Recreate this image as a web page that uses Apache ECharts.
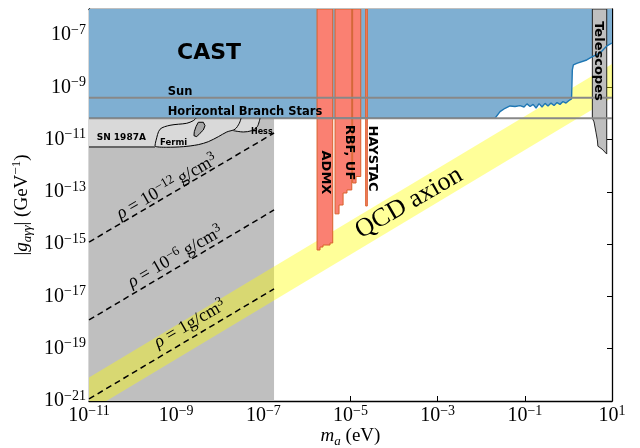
<!DOCTYPE html>
<html><head><meta charset="utf-8">
<script src="https://cdn.jsdelivr.net/npm/echarts@6/dist/echarts.min.js"></script>
<style>html,body{margin:0;padding:0;background:#fff}#c{width:640px;height:448px}</style>
</head><body><div id="c"></div>
<script>
// ---------------- data (m_a in eV, |g| in GeV^-1) ----------------
const xTicksExp = [-11, -9, -7, -5, -3, -1, 1];
const yTicksExp = [-21, -19, -17, -15, -13, -11, -9, -7];
const xRange = [1e-11, 10];
const yRange = [1e-21, 1e-6];

const sunLimit = 4.0e-10;
const hbLimit = 6.6e-11;

const castLimit = [[1e-11,6.6e-11],[2.07e-2,6.6e-11],[2.7e-2,1.18e-10],[3.52e-2,1.59e-10],[4.57e-2,1.95e-10],
  [5.96e-2,1.86e-10],[7.76e-2,2.0e-10],[9.6e-2,1.78e-10],[0.112,2.34e-10],[0.132,1.86e-10],[0.155,2.24e-10],
  [0.181,1.62e-10],[0.212,2.40e-10],[0.248,1.78e-10],[0.291,2.45e-10],[0.340,1.95e-10],[0.399,2.51e-10],
  [0.468,2.04e-10],[0.548,2.63e-10],[0.641,2.24e-10],[0.752,2.88e-10],[0.881,2.51e-10],[1.03,3.16e-10],
  [1.18,3.63e-10],[1.23,4.65e-9],[1.30,7.24e-9],[1.55,8.3e-9],[2.63,1.12e-8],[3.47,1.46e-8],[5.32,2.09e-8],
  [7.69,3.89e-8],[10,5.0e-8]];

const snLimit = [[1e-11,5.25e-12],[3.27e-10,5.25e-12]];
const fermiContour = [[2.85e-9,6.6e-11],[2.47e-9,5.33e-11],[1.75e-9,4.24e-11],[7.23e-10,3.55e-11],[4.26e-10,2.5e-11],
  [3.44e-10,9.16e-12],[3.27e-10,5.75e-12],[6.07e-10,5.13e-12],[1.46e-9,5.4e-12],[3.22e-9,6.45e-12],[5.47e-9,8.38e-12],
  [9.27e-9,1.30e-11],[1.45e-8,1.97e-11],[2.24e-8,2.51e-11],[2.81e-8,4.24e-11],[3.08e-8,6.6e-11]];
const fermiIsland = [[3.22e-9,4.63e-11],[4.2e-9,4.63e-11],[4.59e-9,3.44e-11],[4.2e-9,2.35e-11],[3.52e-9,1.76e-11],
  [2.96e-9,1.30e-11],[2.56e-9,1.42e-11],[2.61e-9,2.02e-11],[2.85e-9,3.14e-11]];
const hessContour = [[2.05e-8,2.21e-11],[3.48e-8,1.97e-11],[5.41e-8,2.21e-11],[7.28e-8,3.16e-11],[8.4e-8,6.6e-11]];

const grayRegionM = [1e-11, 1.76e-7];
const grayRegionG = [1e-21, 6.6e-11];

const qcdUpper = [[1e-11,7.9e-21],[10,7.9e-9]];
const qcdLower = [[1e-11,4.0e-22],[10,4.0e-10]];

const rho12 = [[1e-11,1.2e-15],[1.76e-7,1.8e-11]];
const rho6  = [[1e-11,1.26e-18],[1.76e-7,2.04e-14]];
const rho0  = [[1e-11,1.2e-21],[1.76e-7,1.95e-17]];

const barTop = 1e-6;
const admxBottom = [[1.71e-6,6.0e-16],[2.0e-6,6.0e-16],[2.0e-6,7.8e-16],[2.34e-6,7.8e-16],[2.34e-6,9.3e-16],
  [3.39e-6,9.3e-16],[3.39e-6,1.11e-15],[3.91e-6,1.11e-15]];
const rbfBottom = [[4.42e-6,1.45e-14],[5.46e-6,1.45e-14],[5.46e-6,3.16e-14],[6.76e-6,3.16e-14],[6.76e-6,9.1e-14],
  [8.3e-6,9.1e-14],[8.3e-6,1.19e-13],[1.07e-5,1.19e-13]];
const ufBottom = [[1.12e-5,2.2e-13],[1.34e-5,2.2e-13],[1.34e-5,3.9e-13],[1.72e-5,3.9e-13]];
const haystacBottom = [[2.23e-5,2.9e-14],[2.43e-5,2.9e-14]];

const telescopeEdge = [[3.54,1e-6],[3.54,6.6e-11],[3.87,4.79e-11],[4.31,1.82e-11],[4.61,9.8e-12],[4.75,5.6e-12],
  [5.05,5.25e-12],[5.9,4.37e-12],[7.57,2.82e-12],[7.57,1e-6]];

// ---------------- build ----------------
const L = v => Math.log10(v);
const P = pts => pts.map(p => [L(p[0]), L(p[1])]);
const SANS = 'DejaVu Sans', SERIF = 'Liberation Serif';
const deg = Math.PI / 180;

function poly(pts, style) {
  const lp = P(pts);
  return { type: 'custom', coordinateSystem: 'cartesian2d', clip: true, silent: true,
    data: [lp[0]],
    renderItem: (params, api) => ({ type: 'polygon', shape: { points: lp.map(p => api.coord(p)) }, style: style }) };
}
function line(pts, lineStyle, smooth) {
  return { type: 'line', data: P(pts), symbol: 'none', silent: true, smooth: smooth || false, lineStyle: lineStyle, clip: true };
}
function bar(bottom) {
  const pts = [[bottom[0][0], barTop]].concat(bottom, [[bottom[bottom.length-1][0], barTop]]);
  return poly(pts, { fill: '#fa8072', stroke: '#d9622b', lineWidth: 1 });
}
function supText(v) { return v < 0 ? '−' + (-v) : String(v); }

const darkGray = [[grayRegionM[0],grayRegionG[0]],[grayRegionM[1],grayRegionG[0]],[grayRegionM[1],grayRegionG[1]],[grayRegionM[0],grayRegionG[1]]];
const lightGray = [[snLimit[0][0], hbLimit],[hessContour[hessContour.length-1][0], hbLimit]]
  .concat(hessContour.slice().reverse(), fermiContour.slice(6, 13).reverse(), [snLimit[1], snLimit[0]]);
const castPoly = castLimit.concat([[xRange[1], yRange[1]],[xRange[0], yRange[1]]]);
const band = [qcdUpper[0], qcdUpper[1], qcdLower[1], qcdLower[0]];

const tickRich = {
  b: { fontFamily: SERIF, fontSize: 20, lineHeight: 24, verticalAlign: 'middle', color: '#000' },
  s: { fontFamily: SERIF, fontSize: 14, lineHeight: 14, verticalAlign: 'top', color: '#000' }
};
const nameRich = {
  r: { fontFamily: SERIF, fontSize: 19, lineHeight: 24, verticalAlign: 'middle', color: '#000' },
  i: { fontFamily: SERIF, fontStyle: 'italic', fontSize: 19, lineHeight: 24, verticalAlign: 'middle', color: '#000' },
  sub: { fontFamily: SERIF, fontStyle: 'italic', fontSize: 13, lineHeight: 13, verticalAlign: 'bottom', color: '#000' },
  s: { fontFamily: SERIF, fontSize: 13, lineHeight: 13, verticalAlign: 'top', color: '#000' }
};
const rhoRich = {
  r: { fontFamily: SERIF, fontSize: 18, lineHeight: 22, verticalAlign: 'middle', fill: '#000' },
  i: { fontFamily: SERIF, fontStyle: 'italic', fontSize: 18, lineHeight: 22, verticalAlign: 'middle', fill: '#000' },
  s: { fontFamily: SERIF, fontSize: 13, lineHeight: 12, verticalAlign: 'top', fill: '#000' }
};

const bold = (size, extra) => Object.assign({ fontFamily: SANS, fontWeight: 'bold', fontSize: size }, extra || {});
// annotation anchors in axis units (log10 m, log10 g)
const annotations = [
  { text: 'CAST', at: [-8.246, -7.70], style: bold(22) },
  { text: 'Sun', at: [-9.194, -9.175], style: bold(11.5, { align: 'left' }) },
  { text: 'Horizontal Branch Stars', at: [-9.194, -9.94], style: bold(11.5, { align: 'left' }) },
  { text: 'SN 1987A', at: [-10.823, -10.916], style: bold(9, { align: 'left' }) },
  { text: 'Fermi', at: [-9.371, -11.115], style: bold(8.5, { align: 'left' }) },
  { text: 'Hess', at: [-7.283, -10.705], style: bold(8, { align: 'left' }) },
  { text: 'ADMX', at: [-5.578, -12.255], rot: -90, style: bold(13) },
  { text: 'RBF, UF', at: [-5.034, -11.49], rot: -90, style: bold(13) },
  { text: 'HAYSTAC', at: [-4.495, -11.72], rot: -90, style: bold(13) },
  { text: 'Telescopes', at: [0.686, -7.988], rot: -90, style: bold(13) },
  { text: 'QCD axion', at: [-3.657, -13.422], rot: 30, style: { fontFamily: SERIF, fontSize: 26 } },
  { text: '{i|ρ}{r| = 10}{s|−12}{r| g/cm}{s|3}', at: [-9.21, -12.81], rot: 30, style: { rich: rhoRich } },
  { text: '{i|ρ}{r| = 10}{s|−6}{r| g/cm}{s|3}', at: [-9.015, -15.49], rot: 30, style: { rich: rhoRich } },
  { text: '{i|ρ}{r| = 1g/cm}{s|3}', at: [-8.682, -18.053], rot: 30, style: { rich: rhoRich } }
];

const baseAxis = {
  type: 'value', splitLine: { show: false }, nameMoveOverlap: false,
  axisLine: { show: true, onZero: false, lineStyle: { color: '#000', width: 1.3 } },
  axisTick: { show: true, inside: true, length: 5, lineStyle: { color: '#000', width: 1 } }
};
const xAxisMain = Object.assign({}, baseAxis, {
  min: L(xRange[0]), max: L(xRange[1]), interval: 2, position: 'bottom',
  name: '{i|m}{sub|a}{r| (eV)}', nameLocation: 'middle', nameGap: 23, nameTextStyle: { rich: nameRich },
  axisLabel: { margin: 3, rich: tickRich, formatter: v => xTicksExp.includes(v) ? '{b|10}{s|' + supText(v) + '}' : '' }
});
const xAxisTop = Object.assign({}, baseAxis, { min: L(xRange[0]), max: L(xRange[1]), interval: 2, position: 'top', axisLabel: { show: false } });
const yAxisMain = Object.assign({}, baseAxis, {
  min: L(yRange[0]), max: L(yRange[1]), interval: 2, position: 'left',
  name: '{r||}{i|g}{sub|aγγ}{r|| (GeV}{s|−1}{r|)}', nameLocation: 'middle', nameGap: 55, nameTextStyle: { rich: nameRich },
  axisLabel: { margin: 3, rich: tickRich, formatter: v => yTicksExp.includes(v) ? '{b|10}{s|' + supText(v) + '}' : '' }
});
const yAxisRight = Object.assign({}, baseAxis, { min: L(yRange[0]), max: L(yRange[1]), interval: 2, position: 'right', axisLabel: { show: false } });

const series = [
  poly(darkGray, { fill: '#bfbfbf' }),
  poly(lightGray, { fill: '#d9d9d9' }),
  poly(band, { fill: 'rgba(255,255,0,0.4)' }),
  poly(castPoly, { fill: '#7fafd2' }),
  line(castLimit, { color: '#1f77b4', width: 1.4 }),
  bar(admxBottom), bar(rbfBottom), bar(ufBottom), bar(haystacBottom),
  poly(telescopeEdge, { fill: '#bfbfbf', stroke: '#222', lineWidth: 1 }),
  line([[xRange[0], sunLimit], [xRange[1], sunLimit]], { color: '#888', width: 2 }),
  line([[xRange[0], hbLimit], [xRange[1], hbLimit]], { color: '#888', width: 2 }),
  line(rho12, { color: '#000', width: 1.5, type: [6, 4] }),
  line(rho6, { color: '#000', width: 1.5, type: [6, 4] }),
  line(rho0, { color: '#000', width: 1.5, type: [6, 4] }),
  line(snLimit, { color: '#000', width: 1 }),
  line(fermiContour, { color: '#000', width: 1 }, 0.3),
  line(hessContour, { color: '#000', width: 1 }, 0.3),
  poly(fermiIsland, { fill: '#a8a8a8', stroke: '#000', lineWidth: 1 }),
  { type: 'custom', coordinateSystem: 'cartesian2d', clip: false, silent: true, z: 10, data: [[-5, -10]],
    renderItem: (params, api) => ({ type: 'group', children: annotations.map(a => {
      const c = api.coord(a.at);
      return { type: 'text', x: c[0], y: c[1], rotation: (a.rot || 0) * deg,
        style: Object.assign({ text: a.text, align: 'center', verticalAlign: 'middle', fill: '#000' }, a.style) };
    }) }) }
];

const chart = echarts.init(document.getElementById('c'), null, { renderer: 'canvas' });
chart.setOption({
  animation: false,
  grid: { left: 89, right: 28, top: 9, bottom: 47, containLabel: false, outerBoundsMode: 'none' },
  xAxis: [xAxisMain, xAxisTop],
  yAxis: [yAxisMain, yAxisRight],
  series: series
});
</script></body></html>
